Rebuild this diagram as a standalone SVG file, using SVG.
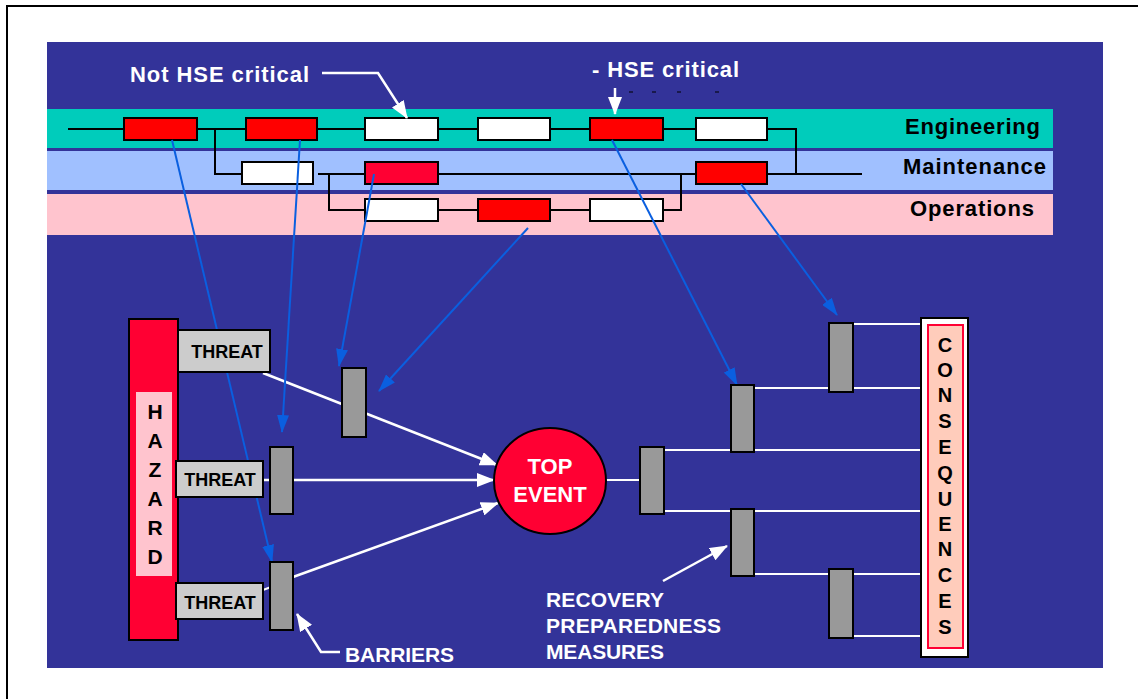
<svg xmlns="http://www.w3.org/2000/svg" width="1138" height="699" viewBox="0 0 1138 699">
<defs>
<style>
.lbl{font-family:"Liberation Sans",Arial,sans-serif;font-weight:bold}
.wt{fill:#fff}
.bk{fill:#000}
.box{stroke:#000;stroke-width:2}
.red{fill:#ff0000}
.red2{fill:#ff0033}
.wh{fill:#fff}
.bar{fill:#999;stroke:#000;stroke-width:2}
.thr{fill:#ccc;stroke:#000;stroke-width:2}
.bl{stroke:#000;stroke-width:2;fill:none}
.wl{stroke:#fff;stroke-width:2;fill:none}
.ba{stroke:#0a5fe0;stroke-width:2;fill:none;marker-end:url(#mb)}
.wa{stroke:#fff;stroke-width:2.5;fill:none;marker-end:url(#mw)}
</style>
<marker id="mb" viewBox="0 0 18 12" refX="17" refY="6" markerWidth="18" markerHeight="12" markerUnits="userSpaceOnUse" orient="auto"><path d="M0,0 L18,6 L0,12 z" fill="#0a5fe0"/></marker>
<marker id="mw" viewBox="0 0 18 14" refX="17" refY="7" markerWidth="18" markerHeight="14" markerUnits="userSpaceOnUse" orient="auto"><path d="M0,0 L18,7 L0,14 z" fill="#fff"/></marker>
</defs>
<rect x="0" y="0" width="1138" height="699" fill="#fff"/>
<path d="M7,699 V6 H1138" stroke="#000" stroke-width="2" fill="none"/>
<rect x="47" y="42" width="1056" height="626" fill="#333399"/>

<g id="bands">
<rect x="47" y="109" width="1006" height="39" fill="#00ccbb"/>
<rect x="47" y="151" width="1006" height="39" fill="#a0c0ff"/>
<rect x="47" y="194" width="1006" height="41" fill="#ffc4ce"/>
<text class="lbl bk" x="1040" y="134" font-size="22" text-anchor="end" textLength="135" lengthAdjust="spacing">Engineering</text>
<text class="lbl bk" x="1046" y="174" font-size="22" text-anchor="end" textLength="143" lengthAdjust="spacing">Maintenance</text>
<text class="lbl bk" x="1034" y="216" font-size="22" text-anchor="end" textLength="124" lengthAdjust="spacing">Operations</text>
</g>

<g id="process-lines">
<path class="bl" d="M68,129 H124 M197,129 H246 M215,129 V174 H242 M317,129 H365 M438,129 H478 M550,129 H590 M663,129 H696 M767,129 H796 V174"/>
<path class="bl" d="M318,174 H365 M438,174 H696 M767,174 H862 M329,174 V210 H365 M438,210 H478 M550,210 H590 M663,210 H681 V174"/>
</g>

<g id="activities">
<rect class="box red" x="124" y="118" width="73" height="22"/>
<rect class="box red" x="246" y="118" width="71" height="22"/>
<rect class="box wh" x="365" y="118" width="73" height="22"/>
<rect class="box wh" x="478" y="118" width="72" height="22"/>
<rect class="box red" x="590" y="118" width="73" height="22"/>
<rect class="box wh" x="696" y="118" width="71" height="22"/>
<rect class="box wh" x="242" y="162" width="71" height="22"/>
<rect class="box red2" x="365" y="162" width="73" height="22"/>
<rect class="box red" x="696" y="162" width="71" height="22"/>
<rect class="box wh" x="365" y="199" width="73" height="22"/>
<rect class="box red" x="478" y="199" width="72" height="22"/>
<rect class="box wh" x="590" y="199" width="73" height="22"/>
</g>

<g id="legend">
<text class="lbl wt" x="130" y="82" font-size="22" textLength="179" lengthAdjust="spacing">Not HSE critical</text>
<text class="lbl wt" x="592" y="77" font-size="22" textLength="147" lengthAdjust="spacing">- HSE critical</text>
<path d="M629,92 h4 M652,92 h4 M677,92 h4 M715,92 h4" stroke="#000" stroke-width="1.2"/>
</g>

<g id="connectors">
<polyline class="wa" points="322,73 378,73 407,118"/>
<line class="wa" x1="615" y1="88" x2="615" y2="114"/>
<line class="wa" x1="263" y1="373" x2="497" y2="465"/>
<line class="wa" x1="263" y1="480" x2="494" y2="480"/>
<line class="wl" x1="263" y1="590" x2="271" y2="587"/>
<line class="wa" x1="293" y1="577" x2="498" y2="503"/>
<line class="wl" x1="606" y1="480" x2="640" y2="480"/>
<path class="wl" d="M664,450 H921 M664,511 H921 M754,388 H921 M853,324 H921 M754,574 H921 M853,636 H921"/>
<polyline class="wa" points="340,652 321,652 297,614"/>
<line class="wa" x1="663" y1="581" x2="727" y2="546"/>
<line class="ba" x1="172" y1="140" x2="272" y2="562"/>
<line class="ba" x1="300" y1="140" x2="282" y2="432"/>
<line class="ba" x1="374" y1="174" x2="339" y2="366"/>
<line class="ba" x1="528" y1="228" x2="379" y2="391"/>
<line class="ba" x1="612" y1="140" x2="737" y2="385"/>
<line class="ba" x1="741" y1="184" x2="837" y2="315"/>
</g>

<g id="hazard">
<rect x="129" y="319" width="49" height="321" fill="#ff0033" stroke="#000" stroke-width="2"/>
<rect x="136" y="392" width="36" height="184" fill="#ffc4ce"/>
<g class="lbl bk" font-size="21" text-anchor="middle">
<text x="155" y="419">H</text><text x="155" y="448">A</text><text x="155" y="477">Z</text><text x="155" y="506">A</text><text x="155" y="535">R</text><text x="155" y="564">D</text>
</g>
</g>

<g id="threat1"><rect class="thr" x="178" y="330" width="92" height="42"/><text class="lbl bk" x="227" y="358" font-size="18" text-anchor="middle">THREAT</text></g>
<g id="threat2"><rect class="thr" x="176" y="461" width="87" height="36"/><text class="lbl bk" x="220" y="486" font-size="18" text-anchor="middle">THREAT</text></g>
<g id="threat3"><rect class="thr" x="176" y="583" width="87" height="36"/><text class="lbl bk" x="220" y="609" font-size="18" text-anchor="middle">THREAT</text></g>

<g id="barriers">
<rect class="bar" x="342" y="368" width="24" height="69"/>
<rect class="bar" x="270" y="447" width="23" height="67"/>
<rect class="bar" x="270" y="562" width="23" height="68"/>
</g>

<g id="top-event">
<ellipse cx="550" cy="481" rx="56" ry="53" fill="#ff0033" stroke="#000" stroke-width="2"/>
<text class="lbl wt" x="550" y="474" font-size="22" text-anchor="middle">TOP</text>
<text class="lbl wt" x="550" y="502" font-size="22" text-anchor="middle">EVENT</text>
</g>

<g id="recovery-measures">
<rect class="bar" x="640" y="447" width="24" height="67"/>
<rect class="bar" x="731" y="385" width="23" height="67"/>
<rect class="bar" x="829" y="323" width="24" height="69"/>
<rect class="bar" x="731" y="509" width="23" height="67"/>
<rect class="bar" x="829" y="569" width="24" height="69"/>
</g>

<g id="consequences">
<rect x="921" y="318" width="47" height="339" fill="#fff" stroke="#000" stroke-width="2"/>
<rect x="928" y="325" width="35" height="323" fill="#ffccbb" stroke="#ff0033" stroke-width="2"/>
<g class="lbl bk" font-size="20" text-anchor="middle">
<text x="945" y="352">C</text><text x="945" y="377">O</text><text x="945" y="402">N</text><text x="945" y="428">S</text><text x="945" y="454">E</text><text x="945" y="480">Q</text><text x="945" y="506">U</text><text x="945" y="531">E</text><text x="945" y="556">N</text><text x="945" y="582">C</text><text x="945" y="608">E</text><text x="945" y="634">S</text>
</g>
</g>

<g id="labels">
<text class="lbl wt" x="345" y="662" font-size="21" textLength="109" lengthAdjust="spacing">BARRIERS</text>
<text class="lbl wt" x="546" y="607" font-size="21" textLength="118" lengthAdjust="spacing">RECOVERY</text>
<text class="lbl wt" x="546" y="633" font-size="21" textLength="175" lengthAdjust="spacing">PREPAREDNESS</text>
<text class="lbl wt" x="546" y="659" font-size="21" textLength="118" lengthAdjust="spacing">MEASURES</text>
</g>
</svg>
